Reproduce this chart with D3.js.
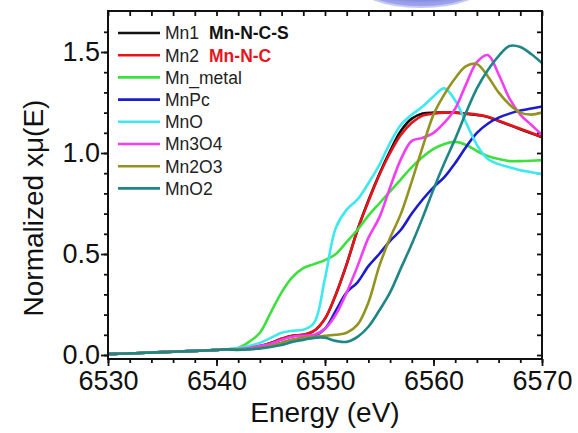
<!DOCTYPE html>
<html>
<head>
<meta charset="utf-8">
<script src="https://cdn.jsdelivr.net/npm/d3@7"></script>
<style>
  body { margin: 0; background: #fff; }
  svg { font-family: "Liberation Sans", Arial, sans-serif; }
</style>
</head>
<body>
<svg id="chart"></svg>
<script>
// energy grid (eV), one point per eV
var energy = d3.range(6530, 6571, 1);

// pre-edge baseline 6530..6541 shared by all samples
var base = [0.005, 0.006, 0.008, 0.010, 0.012, 0.014, 0.016, 0.018, 0.020, 0.022, 0.025, 0.028];

// 6542..6570
var mn1 = base.concat([0.030, 0.035, 0.045, 0.060, 0.080, 0.095, 0.100, 0.120, 0.180, 0.300, 0.450, 0.620, 0.765, 0.895, 1.010, 1.110, 1.170, 1.195, 1.200, 1.200, 1.200, 1.195, 1.188, 1.178, 1.158, 1.138, 1.118, 1.098, 1.078]);
var mn2 = base.concat([0.030, 0.035, 0.045, 0.060, 0.080, 0.095, 0.100, 0.120, 0.180, 0.300, 0.450, 0.620, 0.760, 0.890, 1.000, 1.090, 1.150, 1.185, 1.195, 1.200, 1.200, 1.195, 1.190, 1.180, 1.160, 1.140, 1.120, 1.100, 1.080]);
var mnMetal = base.concat([0.035, 0.065, 0.110, 0.210, 0.310, 0.385, 0.430, 0.450, 0.470, 0.500, 0.560, 0.620, 0.690, 0.750, 0.810, 0.870, 0.930, 0.980, 1.020, 1.045, 1.055, 1.040, 1.010, 0.985, 0.970, 0.960, 0.960, 0.962, 0.965]);
var mnPc = base.concat([0.028, 0.030, 0.035, 0.045, 0.060, 0.075, 0.085, 0.095, 0.130, 0.220, 0.310, 0.360, 0.440, 0.500, 0.565, 0.620, 0.700, 0.770, 0.830, 0.880, 0.950, 1.030, 1.100, 1.145, 1.175, 1.195, 1.210, 1.220, 1.230]);
var mnO = base.concat([0.035, 0.045, 0.060, 0.085, 0.110, 0.120, 0.125, 0.160, 0.380, 0.630, 0.720, 0.770, 0.850, 0.940, 1.050, 1.140, 1.190, 1.230, 1.280, 1.320, 1.260, 1.150, 1.040, 0.970, 0.945, 0.930, 0.915, 0.905, 0.895]);
var mn3o4 = base.concat([0.030, 0.035, 0.045, 0.055, 0.075, 0.090, 0.095, 0.100, 0.130, 0.200, 0.310, 0.440, 0.580, 0.680, 0.830, 0.970, 1.060, 1.075, 1.100, 1.150, 1.220, 1.340, 1.450, 1.485, 1.390, 1.270, 1.190, 1.140, 1.090]);
var mn2o3 = base.concat([0.028, 0.030, 0.035, 0.045, 0.060, 0.075, 0.085, 0.090, 0.095, 0.100, 0.110, 0.150, 0.260, 0.440, 0.580, 0.700, 0.860, 1.030, 1.190, 1.290, 1.370, 1.430, 1.440, 1.380, 1.300, 1.240, 1.200, 1.190, 1.200]);
var mnO2 = base.concat([0.025, 0.028, 0.032, 0.040, 0.050, 0.065, 0.075, 0.085, 0.085, 0.070, 0.065, 0.090, 0.140, 0.220, 0.310, 0.430, 0.550, 0.680, 0.820, 0.950, 1.070, 1.200, 1.320, 1.410, 1.480, 1.530, 1.525, 1.490, 1.445]);

var names = ["Mn1", "Mn2", "Mn_metal", "MnPc", "MnO", "Mn3O4", "Mn2O3", "MnO2"];
var notes = ["Mn-N-C-S", "Mn-N-C", "", "", "", "", "", ""];
var colors = ["#111111", "#e8141c", "#3ee03e", "#1c1ccc", "#3ee8f0", "#f23ef2", "#939322", "#1f8686"];
var noteColors = ["#111111", "#e8141c"];
var seriesValues = [mn1, mn2, mnMetal, mnPc, mnO, mn3o4, mn2o3, mnO2];

var xTicks = [6530, 6540, 6550, 6560, 6570];
var yTicks = [0.0, 0.5, 1.0, 1.5];

var svgWidth = 578, svgHeight = 433;
var plotLeft = 108, plotRight = 542, plotTop = 11, plotBottom = 359;

var svg = d3.select('#chart')
    .attr("width", svgWidth)
    .attr("height", svgHeight);

// decorative blue ellipse cut off at top
var defs = svg.append("defs");
var grad = defs.append("radialGradient").attr("id", "blob")
    .attr("cx", "50%").attr("cy", "35%").attr("r", "60%");
grad.append("stop").attr("offset", "0%").attr("stop-color", "#4a4ec4");
grad.append("stop").attr("offset", "75%").attr("stop-color", "#5c62d2");
grad.append("stop").attr("offset", "100%").attr("stop-color", "#9aa0ea");
svg.append("ellipse")
    .attr("cx", 421).attr("cy", -28)
    .attr("rx", 76).attr("ry", 35)
    .attr("fill", "url(#blob)")
    .attr("stroke", "#c4c8f4")
    .attr("stroke-width", 2);

defs.append("clipPath").attr("id", "plotClip")
    .append("rect")
    .attr("x", plotLeft).attr("y", plotTop)
    .attr("width", plotRight - plotLeft).attr("height", plotBottom - plotTop);

var xScale = d3.scaleLinear()
    .domain([6530, 6570])
    .range([plotLeft, plotRight]);

var yScale = d3.scaleLinear()
    .domain([-0.0198, 1.703])
    .range([plotBottom, plotTop]);

// axes
var minorY = d3.range(0, 17).map(function (i) { return i / 10; });
var x_axis = d3.axisBottom(xScale).tickValues(xTicks).tickSize(7).tickFormat(d3.format("d"));
var x_minor = d3.axisBottom(xScale).tickValues(d3.range(6530, 6571, 2)).tickSize(4).tickFormat("");
var x_top = d3.axisBottom(xScale).tickValues(d3.range(6530, 6571, 2)).tickSize(5).tickFormat("");
var y_axis = d3.axisLeft(yScale).tickValues(yTicks).tickSize(7).tickFormat(d3.format(".1f"));
var y_minor = d3.axisLeft(yScale).tickValues(minorY).tickSize(4).tickFormat("");
var y_right = d3.axisLeft(yScale).tickValues(minorY).tickSize(5).tickFormat("");

svg.append("g").attr("transform", "translate(0," + plotBottom + ")").call(x_minor);
var gx = svg.append("g").attr("transform", "translate(0," + plotBottom + ")").call(x_axis);
gx.selectAll("text").attr("font-size", 27).attr("dy", "0.74em").attr("y", 11).attr("fill", "#111");
svg.append("g").attr("transform", "translate(0," + plotTop + ")").call(x_top);

svg.append("g").attr("transform", "translate(" + plotLeft + ",0)").call(y_minor);
var gy = svg.append("g").attr("transform", "translate(" + plotLeft + ",0)").call(y_axis);
gy.selectAll("text").attr("font-size", 27).attr("x", -8).attr("dy", "0.33em").attr("fill", "#111");
svg.append("g").attr("transform", "translate(" + plotRight + ",0)").call(y_right);

svg.selectAll(".domain").remove();
svg.selectAll(".tick line").attr("stroke", "#111").attr("stroke-width", 1.8);

// curves
var line = d3.line()
    .x(function (d, i) { return xScale(energy[i]); })
    .y(function (d) { return yScale(d); })
    .curve(d3.curveCatmullRom.alpha(0.5));

var plot = svg.append("g").attr("clip-path", "url(#plotClip)");
plot.selectAll("path.series")
    .data(seriesValues)
    .enter()
    .append("path")
    .attr("class", "series")
    .attr("d", function (d) { return line(d); })
    .attr("fill", "none")
    .attr("stroke", function (d, i) { return colors[i]; })
    .attr("stroke-width", 2.6)
    .attr("stroke-linejoin", "round");

// frame
svg.append("rect")
    .attr("x", plotLeft).attr("y", plotTop)
    .attr("width", plotRight - plotLeft).attr("height", plotBottom - plotTop)
    .attr("fill", "none")
    .attr("stroke", "#111")
    .attr("stroke-width", 2);

// legend
var legend = svg.selectAll("g.legend")
    .data(names)
    .enter()
    .append("g")
    .attr("class", "legend")
    .attr("transform", function (d, i) { return "translate(118," + (33 + i * 22.2) + ")"; });

legend.append("line")
    .attr("x1", 0).attr("x2", 42)
    .attr("stroke", function (d, i) { return colors[i]; })
    .attr("stroke-width", 2.6);

var lt = legend.append("text")
    .attr("x", 47)
    .attr("dy", "0.36em")
    .attr("font-size", 17.5)
    .attr("fill", "#222");
lt.append("tspan").text(function (d) { return d; });
lt.append("tspan")
    .attr("dx", 10)
    .attr("font-weight", "bold")
    .attr("fill", function (d, i) { return noteColors[i] || "#222"; })
    .text(function (d, i) { return notes[i]; });

// axis titles
svg.append("text")
    .attr("x", (plotLeft + plotRight) / 2)
    .attr("y", 422)
    .attr("text-anchor", "middle")
    .attr("font-size", 28)
    .attr("fill", "#111")
    .text("Energy (eV)");

svg.append("text")
    .attr("transform", "translate(43,208) rotate(-90)")
    .attr("text-anchor", "middle")
    .attr("font-size", 28)
    .attr("fill", "#111")
    .text("Normalized xμ(E)");
</script>
</body>
</html>
